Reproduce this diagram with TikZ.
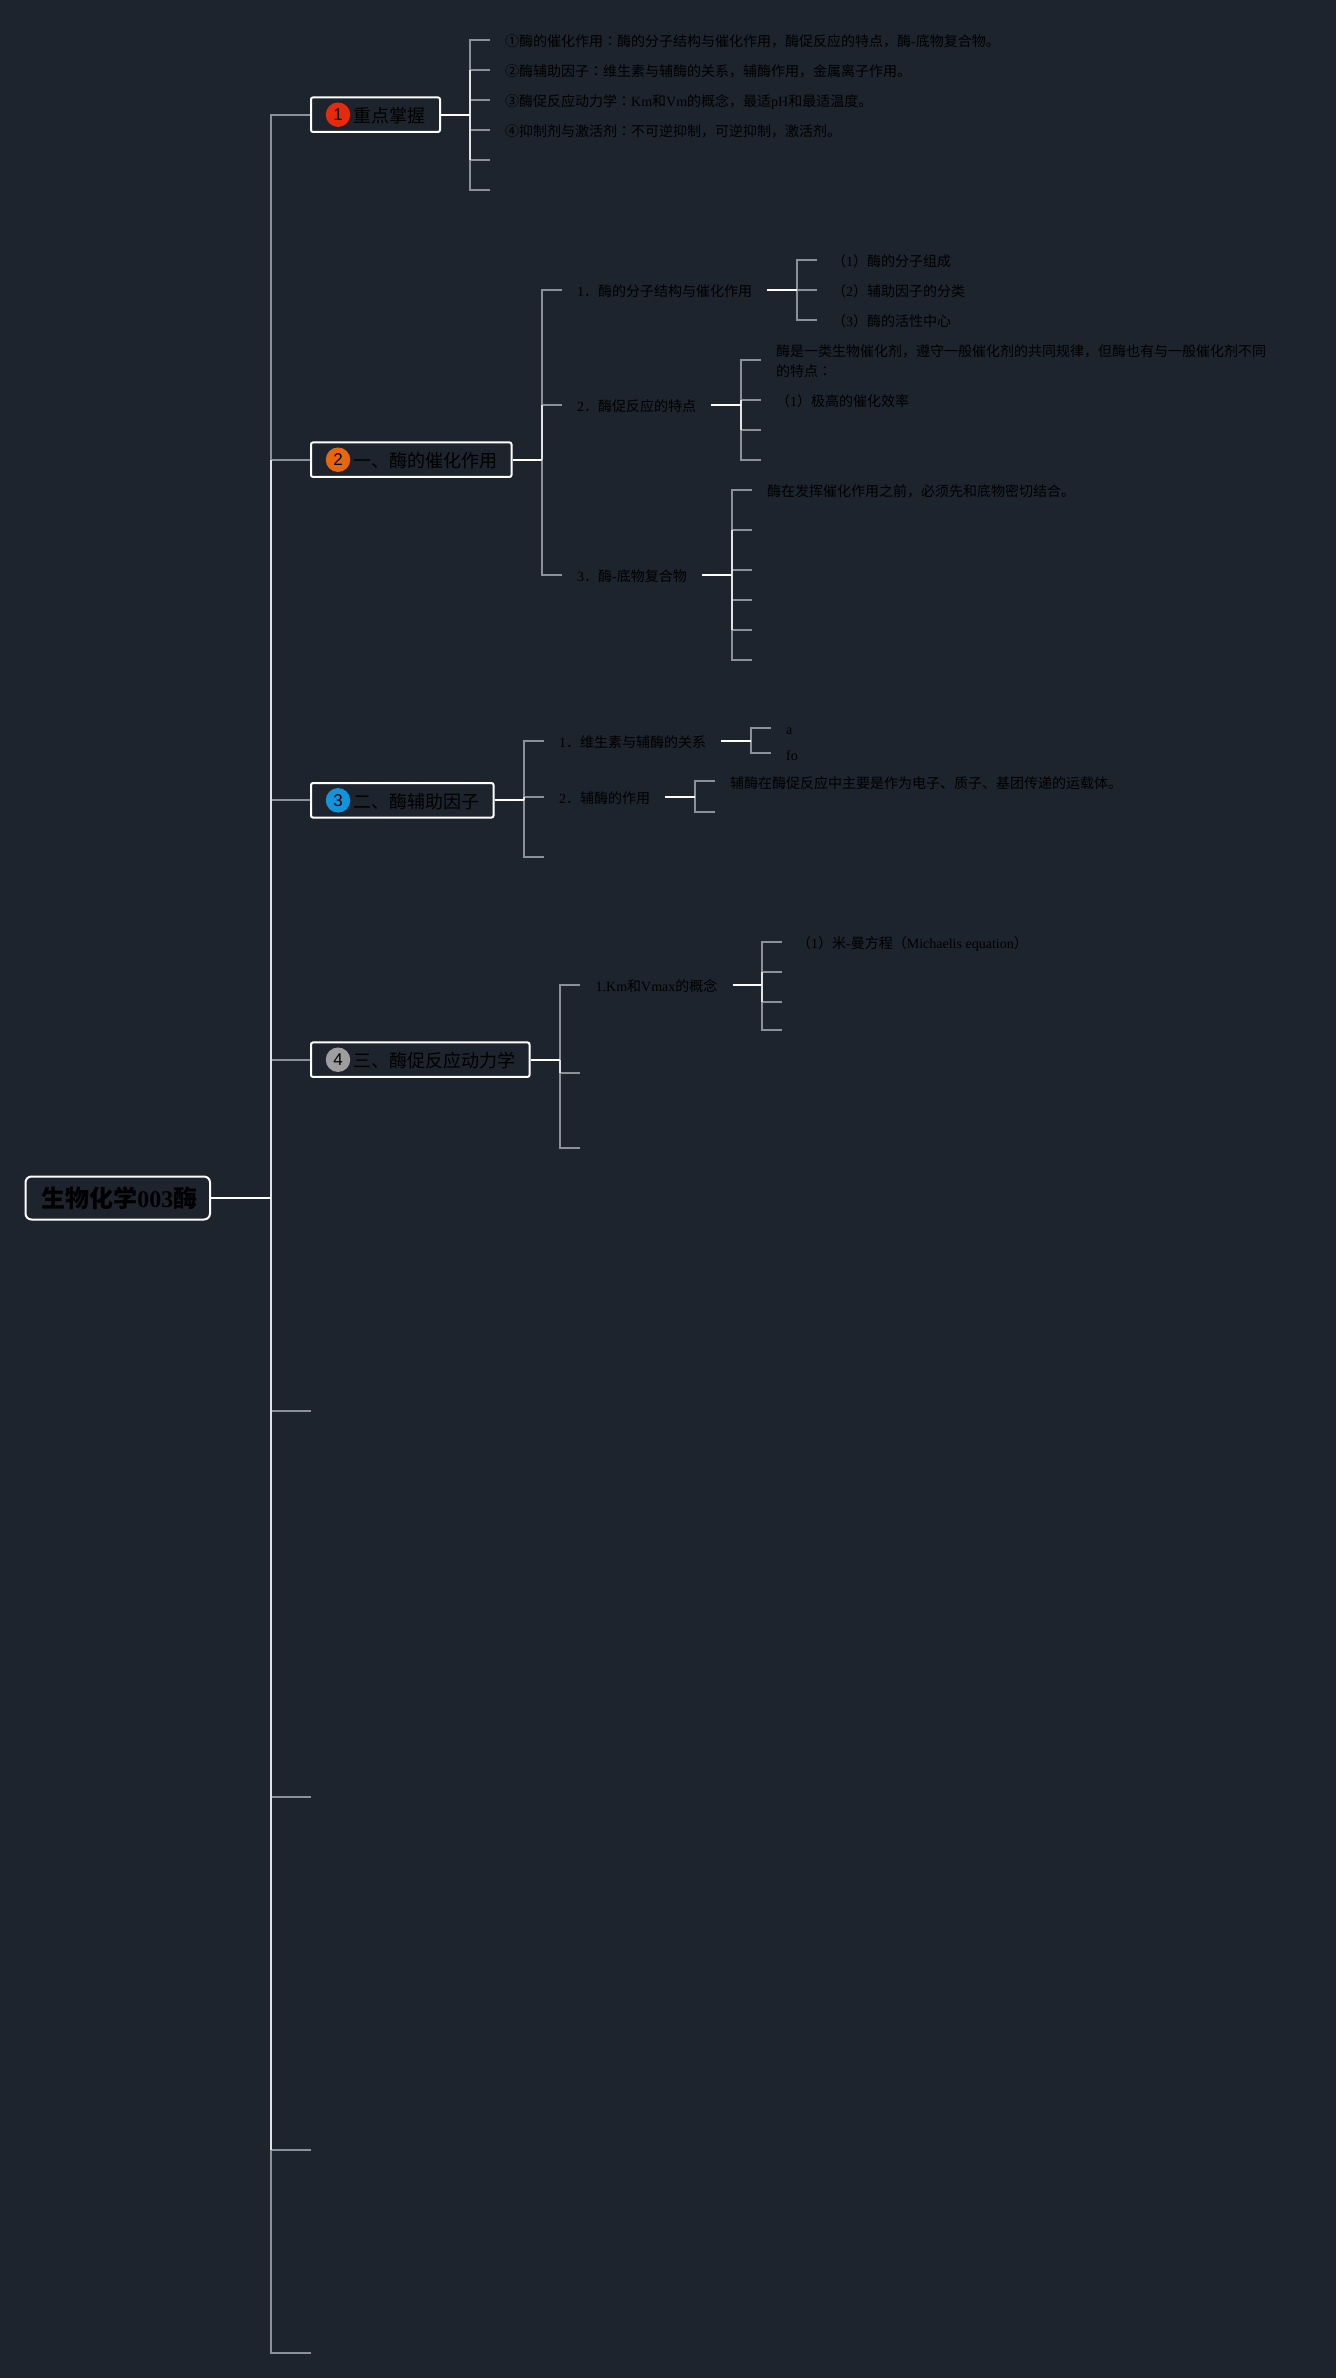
\documentclass[tikz,border=0pt]{standalone}
\usepackage{fontspec}
\setmainfont{Noto Sans CJK SC}
\newfontfamily\latfont{Liberation Serif}
\newfontfamily\numfont{Liberation Sans}
\newfontfamily\colonfont{Noto Sans CJK TC}
\newcommand{\lat}[1]{{\latfont #1}}
\newcommand{\zhcolon}{{\colonfont ：}}

\definecolor{bgdark}{HTML}{1D242D}
\definecolor{linegrey}{HTML}{8B9099}
\definecolor{linelight}{HTML}{DFE2E6}

\tikzset{
  outer/.style={draw=linegrey, line width=2pt, line join=miter},
  inner/.style={draw=linelight, line width=2pt},
  tick/.style={draw=linegrey, line width=2pt},
  stub/.style={draw=white, line width=2pt},
  topic/.style={draw=white, line width=2pt, rounded corners=2pt, anchor=west,
    minimum height=34.5pt, inner sep=0pt},
  badge/.style={circle, minimum size=24.5pt, inner sep=0pt, text=black,
    font=\fontsize{17}{17}\selectfont\numfont},
  topictext/.style={anchor=west, inner sep=0pt, text=black, text height=18pt, text depth=2pt,
    font=\fontsize{18}{18}\selectfont},
  note/.style={anchor=west, inner sep=0pt, text=black, text height=15pt, text depth=1.4pt,
    font=\fontsize{14}{14}\selectfont},
  wrapnote/.style={anchor=west, inner sep=0pt, text=black, align=left,
    font=\fontsize{14}{19.7}\selectfont},
}

\begin{document}
\begin{tikzpicture}[x=1pt, y=-1pt]

  \useasboundingbox (0,0) rectangle (1336,2378);
  \fill[bgdark] (0,0) rectangle (1336,2378);

  % root and main spine
  \draw (24.5,1198) node[name=root, draw=white, line width=2pt, rounded corners=6pt, anchor=west,
    minimum width=184.5pt, minimum height=43pt, inner sep=0pt, text=black,
    font=\fontsize{24}{24}\selectfont\bfseries] {\kern 3pt 生物化学\lat{003}酶};
  \coordinate (j0) at (271,1198);
  \foreach \ypos [count=\i] in {114.7,459.7,800.3,1059.7,1411,1796.7,2149.7,2353} {
    \coordinate (r\i) at (311,\ypos);
  }
  \foreach \i in {2,...,7} \draw[tick] (r\i-|j0) -- (r\i);
  \draw[inner] (r2-|j0) -- (r7-|j0);
  \draw[outer] (r1) -- (r1-|j0) -- (r2-|j0);
  \draw[outer] (r8) -- (r8-|j0) -- (r7-|j0);
  \draw[stub] (root) -- (j0);

  % topic 1
  \draw (310,114.7) node[name=b1, topic, minimum width=129pt] {};
  \draw (338,114.7) node[name=c1, badge, fill={rgb,255:red,230;green,42;blue,11}] {1};
  \draw (353,114.7) node[name=t1, topictext] {重点掌握};
  \coordinate (j1) at (470,114.7);
  \foreach \ypos [count=\i] in {39.7,69.7,99.7,129.7,159.7,189.7} {
    \coordinate (a\i) at (490,\ypos);
  }
  \foreach \i in {2,...,5} \draw[tick] (a\i-|j1) -- (a\i);
  \draw[inner] (a2-|j1) -- (a5-|j1);
  \draw[outer] (a1) -- (a1-|j1) -- (a2-|j1);
  \draw[outer] (a6) -- (a6-|j1) -- (a5-|j1);
  \draw[stub] (b1) -- (j1);
  \draw (505,39.7) node[name=n11, note] {①酶的催化作用\zhcolon 酶的分子结构与催化作用，酶促反应的特点，酶\lat{-}底物复合物。};
  \draw (505,69.7) node[name=n12, note] {②酶辅助因子\zhcolon 维生素与辅酶的关系，辅酶作用，金属离子作用。};
  \draw (505,99.7) node[name=n13, note] {③酶促反应动力学\zhcolon\lat{Km}和\lat{Vm}的概念，最适\lat{pH}和最适温度。};
  \draw (505,129.7) node[name=n14, note] {④抑制剂与激活剂\zhcolon 不可逆抑制，可逆抑制，激活剂。};

  % topic 2
  \draw (310,459.7) node[name=b2, topic, minimum width=200.5pt] {};
  \draw (338,459.7) node[name=c2, badge, fill={rgb,255:red,232;green,102;blue,14}] {2};
  \draw (353,459.7) node[name=t2, topictext] {一、酶的催化作用};
  \coordinate (j2) at (542,459.7);
  \coordinate (m1) at (562,289.7);
  \coordinate (m2) at (562,404.7);
  \coordinate (m3) at (562,575);
  \draw[tick] (m2-|j2) -- (m2);
  \draw[inner] (m2-|j2) -- (j2);
  \draw[outer] (m1) -- (m1-|j2) -- (m2-|j2);
  \draw[outer] (m3) -- (m3-|j2) -- (j2);
  \draw[stub] (b2) -- (j2);

  \draw (577,289.7) node[name=s21, note] {\lat{1}．酶的分子结构与催化作用};
  \draw (577,404.7) node[name=s22, note] {\lat{2}．酶促反应的特点};
  \draw (577,575) node[name=s23, note] {\lat{3}．酶\lat{-}底物复合物};

  \coordinate (j21) at (797,289.7);
  \coordinate (p1) at (817,259.7);
  \coordinate (p2) at (817,319.7);
  \draw[outer] (p1) -- (p1-|j21) -- (p2-|j21) -- (p2);
  \draw[tick] (j21) -- (817,289.7);
  \draw[stub] ([xshift=15pt]s21.east) -- (j21);
  \draw (832,259.7) node[name=n211, note] {（\lat{1}）酶的分子组成};
  \draw (832,289.7) node[name=n212, note] {（\lat{2}）辅助因子的分类};
  \draw (832,319.7) node[name=n213, note] {（\lat{3}）酶的活性中心};

  \coordinate (j22) at (741,404.7);
  \foreach \ypos [count=\i] in {359.7,399.7,429.7,459.7} {
    \coordinate (q\i) at (761,\ypos);
  }
  \foreach \i in {2,3} \draw[tick] (q\i-|j22) -- (q\i);
  \draw[inner] (q2-|j22) -- (q3-|j22);
  \draw[outer] (q1) -- (q1-|j22) -- (q2-|j22);
  \draw[outer] (q4) -- (q4-|j22) -- (q3-|j22);
  \draw[stub] ([xshift=15pt]s22.east) -- (j22);
  \draw (776,361.1) node[name=n221, wrapnote] {酶是一类生物催化剂，遵守一般催化剂的共同规律，但酶也有与一般催化剂不同\\的特点\zhcolon};
  \draw (776,399.7) node[name=n222, note] {（\lat{1}）极高的催化效率};

  \coordinate (j23) at (732,575);
  \foreach \ypos [count=\i] in {489.7,529.7,569.7,599.7,629.7,659.7} {
    \coordinate (u\i) at (752,\ypos);
  }
  \foreach \i in {2,...,5} \draw[tick] (u\i-|j23) -- (u\i);
  \draw[inner] (u2-|j23) -- (u5-|j23);
  \draw[outer] (u1) -- (u1-|j23) -- (u2-|j23);
  \draw[outer] (u6) -- (u6-|j23) -- (u5-|j23);
  \draw[stub] ([xshift=15pt]s23.east) -- (j23);
  \draw (767,489.7) node[name=n231, note] {酶在发挥催化作用之前，必须先和底物密切结合。};

  % topic 3
  \draw (310,800.3) node[name=b3, topic, minimum width=182.5pt] {};
  \draw (338,800.3) node[name=c3, badge, fill={rgb,255:red,18;green,148;blue,220}] {3};
  \draw (353,800.3) node[name=t3, topictext] {二、酶辅助因子};
  \coordinate (j3) at (524,800.3);
  \coordinate (v1) at (544,740.7);
  \coordinate (v2) at (544,796.7);
  \coordinate (v3) at (544,856.7);
  \draw[tick] (v2-|j3) -- (v2);
  \draw[inner] (v2-|j3) -- (j3);
  \draw[outer] (v1) -- (v1-|j3) -- (v2-|j3);
  \draw[outer] (v3) -- (v3-|j3) -- (j3);
  \draw[stub] (b3) -- (j3);
  \draw (559,740.7) node[name=s31, note] {\lat{1}．维生素与辅酶的关系};
  \draw (559,796.7) node[name=s32, note] {\lat{2}．辅酶的作用};

  \coordinate (j31) at (751,740.7);
  \coordinate (w1) at (771,727.7);
  \coordinate (w2) at (771,753.3);
  \draw[outer] (w1) -- (w1-|j31) -- (w2-|j31) -- (w2);
  \draw[stub] ([xshift=15pt]s31.east) -- (j31);
  \draw (786,727.7) node[name=n311, note] {\lat{a}};
  \draw (786,753.3) node[name=n312, note] {\lat{fo}};

  \coordinate (j32) at (695,796.7);
  \coordinate (w3) at (715,781.3);
  \coordinate (w4) at (715,812);
  \draw[outer] (w3) -- (w3-|j32) -- (w4-|j32) -- (w4);
  \draw[stub] ([xshift=15pt]s32.east) -- (j32);
  \draw (730,782) node[name=n321, note] {辅酶在酶促反应中主要是作为电子、质子、基团传递的运载体。};

  % topic 4
  \draw (310,1059.7) node[name=b4, topic, minimum width=218.5pt] {};
  \draw (338,1059.7) node[name=c4, badge, fill={rgb,255:red,158;green,158;blue,158}] {4};
  \draw (353,1059.7) node[name=t4, topictext] {三、酶促反应动力学};
  \coordinate (j4) at (560,1059.7);
  \coordinate (x1) at (580,985);
  \coordinate (x2) at (580,1073);
  \coordinate (x3) at (580,1147.7);
  \draw[tick] (x2-|j4) -- (x2);
  \draw[inner] (j4) -- (x2-|j4);
  \draw[outer] (x1) -- (x1-|j4) -- (j4);
  \draw[outer] (x3) -- (x3-|j4) -- (x2-|j4);
  \draw[stub] (b4) -- (j4);
  \draw (595.5,985) node[name=s41, note] {\lat{1.Km}和\lat{Vmax}的概念};

  \coordinate (j41) at (762,985);
  \foreach \ypos [count=\i] in {942,971.7,1001.7,1029.7} {
    \coordinate (z\i) at (782,\ypos);
  }
  \foreach \i in {2,3} \draw[tick] (z\i-|j41) -- (z\i);
  \draw[inner] (z2-|j41) -- (z3-|j41);
  \draw[outer] (z1) -- (z1-|j41) -- (z2-|j41);
  \draw[outer] (z4) -- (z4-|j41) -- (z3-|j41);
  \draw[stub] ([xshift=15pt]s41.east) -- (j41);
  \draw (797,941.5) node[name=n411, note] {（\lat{1}）米\lat{-}曼方程（\lat{Michaelis equation}）};

\end{tikzpicture}
\end{document}
